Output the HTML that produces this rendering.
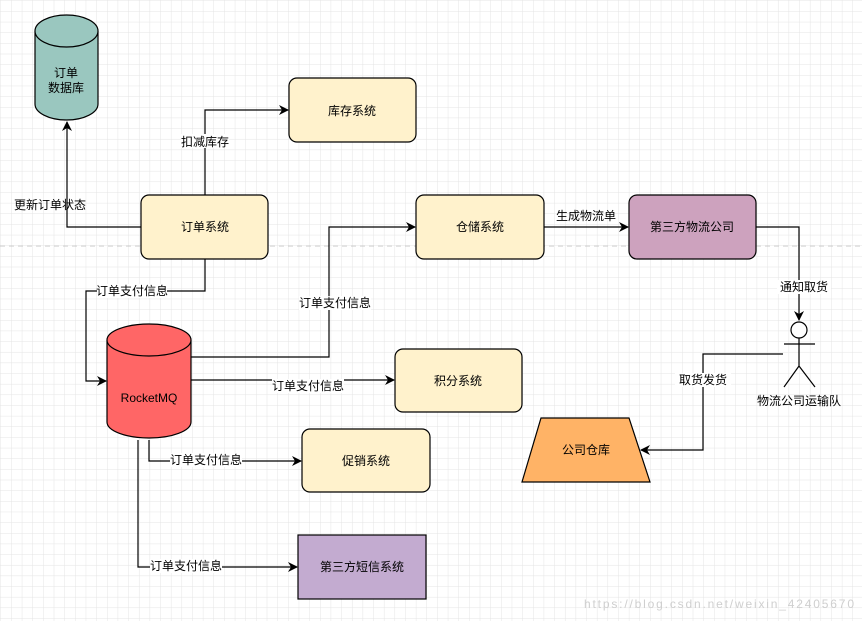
<!DOCTYPE html>
<html><head><meta charset="utf-8"><style>
html,body{margin:0;padding:0;background:#fff}
svg{display:block}
text{font-family:"Liberation Sans","Noto Sans CJK SC",sans-serif;font-size:12px;fill:#000}
</style></head><body>
<svg width="862" height="621" viewBox="0 0 862 621" xmlns="http://www.w3.org/2000/svg">
<defs>
<pattern id="g" width="10.65" height="10.65" patternUnits="userSpaceOnUse" x="1" y="1">
<path d="M10.65 0V10.65H0" fill="none" stroke="#e4e4e4" stroke-width="1"/>
</pattern>
<marker id="a" markerWidth="10" markerHeight="10" refX="9" refY="5" orient="auto" markerUnits="userSpaceOnUse">
<path d="M0,0 L10,5 L0,10 L3,5 Z" fill="#000"/>
</marker>
</defs>
<rect width="862" height="621" fill="url(#g)"/>
<line x1="0" y1="246" x2="862" y2="246" stroke="#c8c8c8" stroke-dasharray="5,4"/>

<g fill="none" stroke="#000" stroke-width="1.2">
<path d="M141,227 H67 V122" marker-end="url(#a)"/>
<path d="M205,195 V110 H288" marker-end="url(#a)"/>
<path d="M205,259 V291 H86 V381 H106" marker-end="url(#a)"/>
<path d="M191,357 H329 V227 H415" marker-end="url(#a)"/>
<path d="M191,380 H394" marker-end="url(#a)"/>
<path d="M149,440 V461 H301" marker-end="url(#a)"/>
<path d="M138,440 V567 H297" marker-end="url(#a)"/>
<path d="M544,227 H628" marker-end="url(#a)"/>
<path d="M756,227 H799 V320" marker-end="url(#a)"/>
<path d="M783,354 H703 V450 H641" marker-end="url(#a)"/>
</g>

<g stroke="#000" stroke-width="1.2">
<path d="M35,31 V104 A31.5,16 0 0 0 98,104 V31" fill="#9ac7bf"/>
<ellipse cx="66.5" cy="31" rx="31.5" ry="16" fill="#9ac7bf"/>
<path d="M107,340 V422 A42,16 0 0 0 191,422 V340" fill="#ff6666"/>
<ellipse cx="149" cy="340" rx="42" ry="16" fill="#ff6666"/>
<rect x="289" y="78" width="127" height="64" rx="8" fill="#fff2cc"/>
<rect x="141" y="195" width="127" height="64" rx="8" fill="#fff2cc"/>
<rect x="416" y="195" width="128" height="64" rx="8" fill="#fff2cc"/>
<rect x="629" y="195" width="127" height="64" rx="8" fill="#cda2be"/>
<rect x="395" y="349" width="127" height="63" rx="8" fill="#fff2cc"/>
<rect x="302" y="429" width="128" height="63" rx="8" fill="#fff2cc"/>
<rect x="298" y="535" width="128" height="64" fill="#c3abd0"/>
<path d="M541,418 H629 L650,482 H522 Z" fill="#ffb366"/>
<circle cx="799" cy="330" r="8" fill="#fff"/>
<path d="M784,344 H815 M799,338 V366 L784,387 M799,366 L815,387" fill="none"/>
</g>

<g text-anchor="middle">
<text x="66" y="77">订单</text>
<text x="66" y="92">数据库</text>
<text x="149" y="402" font-size="13">RocketMQ</text>
<text x="352" y="115">库存系统</text>
<text x="205" y="231">订单系统</text>
<text x="480" y="231">仓储系统</text>
<text x="692" y="231">第三方物流公司</text>
<text x="458" y="385">积分系统</text>
<text x="366" y="465">促销系统</text>
<text x="362" y="571">第三方短信系统</text>
<text x="586" y="454">公司仓库</text>
<text x="799" y="405">物流公司运输队</text>
</g>
<g text-anchor="middle" font-size="12">
<text x="50" y="209">更新订单状态</text>
<rect x="181" y="134" width="48" height="14" fill="#fff"/>
<text x="205" y="146">扣减库存</text>
<rect x="97" y="284" width="70" height="14" fill="#fff"/>
<text x="132" y="295">订单支付信息</text>
<rect x="299" y="296" width="72" height="14" fill="#fff"/>
<text x="335" y="307">订单支付信息</text>
<rect x="272" y="379" width="72" height="14" fill="#fff"/>
<text x="308" y="390">订单支付信息</text>
<rect x="170" y="453" width="72" height="14" fill="#fff"/>
<text x="206" y="464">订单支付信息</text>
<rect x="150" y="559" width="72" height="14" fill="#fff"/>
<text x="186" y="570">订单支付信息</text>
<text x="586" y="220">生成物流单</text>
<rect x="777" y="280" width="54" height="14" fill="#fff"/>
<text x="804" y="291">通知取货</text>
<rect x="675" y="373" width="56" height="14" fill="#fff"/>
<text x="703" y="384">取货发货</text>
</g>
<text x="584" y="608" font-size="14" textLength="270" style="fill:#cfcfcf">https://blog.csdn.net/weixin_42405670</text>
</svg>
</body></html>
